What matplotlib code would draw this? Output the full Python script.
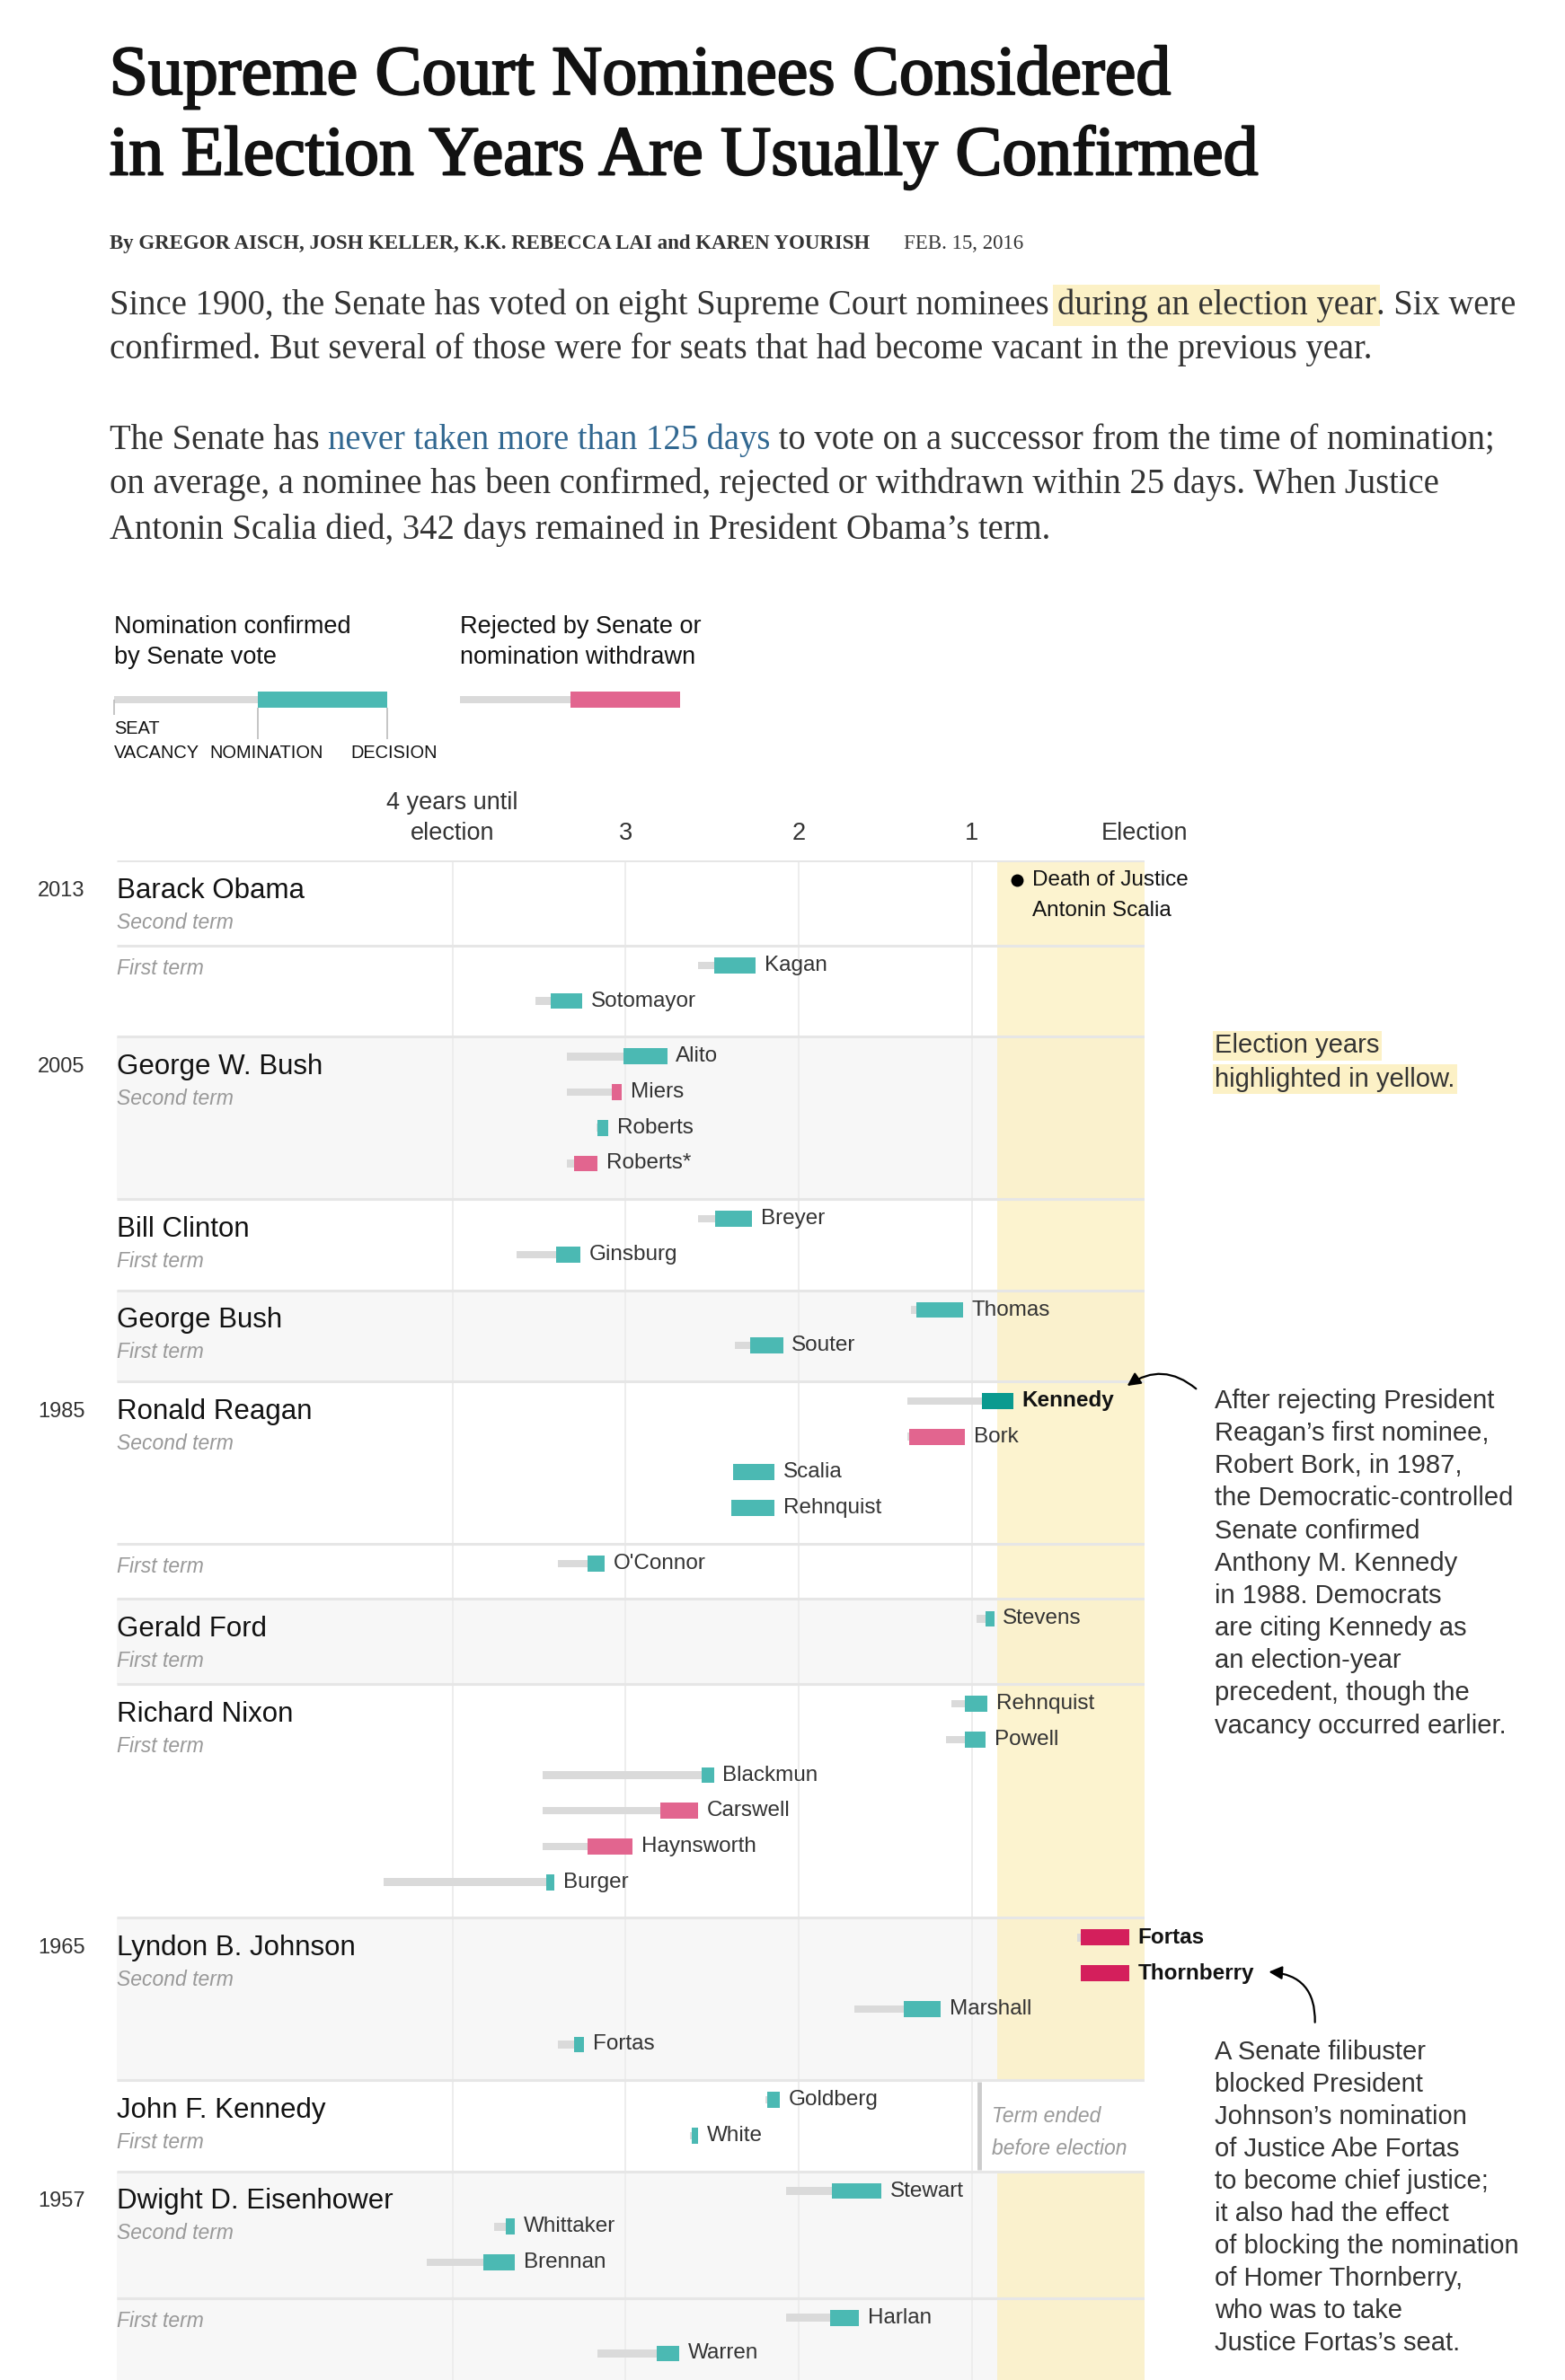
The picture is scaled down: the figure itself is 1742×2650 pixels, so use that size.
import matplotlib
matplotlib.use("Agg")
import numpy as np
import matplotlib.pyplot as plt
import matplotlib.patheffects as pe
from matplotlib.patches import FancyArrowPatch

plt.rcParams['font.family'] = ['Liberation Sans', 'DejaVu Sans']

# ---- groups (president / term), newest first
group_names = ["Barack Obama", "", "George W. Bush", "Bill Clinton", "George Bush",
               "Ronald Reagan", "", "Gerald Ford", "Richard Nixon",
               "Lyndon B. Johnson", "John F. Kennedy", "Dwight D. Eisenhower", ""]
group_terms = ["Second term", "First term", "Second term", "First term", "First term",
               "Second term", "First term", "First term", "First term",
               "Second term", "First term", "Second term", "First term"]
group_years = ["2013", "", "2005", "", "", "1985", "", "", "", "1965", "", "1957", ""]
term_ended_early = [False] * 10 + [True] + [False] * 2

# ---- nominees: years until the next election at vacancy, nomination and decision
nominees = ["Kagan", "Sotomayor", "Alito", "Miers", "Roberts", "Roberts*",
            "Breyer", "Ginsburg", "Thomas", "Souter",
            "Kennedy", "Bork", "Scalia", "Rehnquist", "O'Connor", "Stevens",
            "Rehnquist", "Powell", "Blackmun", "Carswell", "Haynsworth", "Burger",
            "Fortas", "Thornberry", "Marshall", "Fortas", "Goldberg", "White",
            "Stewart", "Whittaker", "Brennan", "Harlan", "Warren"]
nominee_group = [1, 1, 2, 2, 2, 2, 3, 3, 4, 4, 5, 5, 5, 5, 6, 7,
                 8, 8, 8, 8, 8, 8, 9, 9, 9, 9, 10, 10, 11, 11, 11, 12, 12]
vacancy = [2.58, 3.52, 3.34, 3.34, 3.17, 3.34, 2.58, 3.63, 1.35, 2.37,
           1.37, 1.37, 2.38, 2.39, 3.39, 0.97, 1.12, 1.15, 3.48, 3.48, 3.48, 4.40,
           0.39, 0.37, 1.68, 3.39, 2.19, 2.63, 2.07, 3.76, 4.15, 2.07, 3.16]
nomination = [2.49, 3.43, 3.01, 3.08, 3.16, 3.30, 2.48, 3.40, 1.32, 2.28,
              0.94, 1.36, 2.38, 2.39, 3.22, 0.92, 1.04, 1.04, 2.56, 2.80, 3.22, 3.46,
              0.37, 0.37, 1.39, 3.30, 2.18, 2.62, 1.81, 3.69, 3.82, 1.82, 2.82]
decision = [2.25, 3.25, 2.76, 3.02, 3.10, 3.16, 2.27, 3.26, 1.05, 2.09,
            0.76, 1.04, 2.14, 2.14, 3.12, 0.87, 0.91, 0.92, 2.49, 2.58, 2.96, 3.41,
            0.09, 0.09, 1.18, 3.24, 2.11, 2.58, 1.52, 3.64, 3.64, 1.65, 2.69]
rejected = [False, False, False, True, False, True, False, False, False, False,
            False, True, False, False, False, False, False, False, False, True, True, False,
            True, True, False, False, False, False, False, False, False, False, False]
in_election_year = [False] * 10 + [True] + [False] * 11 + [True, True] + [False] * 9

axis_ticks = [4, 3, 2, 1, 0]
axis_labels = ["election", "3", "2", "1", "Election"]
election_year_start = 0.851   # Jan 1 of the election year
scalia_death = 0.737
jfk_term_end = 0.956

TEAL, TEAL_DARK = '#4bb9b3', '#0a9a8f'
PINK, CRIMSON = '#e2658f', '#d41f5c'
GRAYBAR, ROWGRAY = '#dadada', '#f7f7f7'
SEP, GRID = '#e6e6e6', '#ececec'
YELLOW = '#fcf0bf'
HILITE = '#fcf1c6'
TXT = '#333333'

fig = plt.figure(figsize=(17.42, 26.5), dpi=100)
renderer = fig.canvas.get_renderer()

# layout axes in reference units, y downwards
H = 1568
W = 1742 * H / 2650
lay = fig.add_axes([0, 0, 1, 1])
lay.set_xlim(0, W)
lay.set_ylim(H, 0)
lay.axis('off')
lay.set_zorder(3)

# chart axes: x in years until election, y in the same vertical units
X0, X1, Y0 = 77, 754, 567
ax = fig.add_axes([X0 / W, 0, (X1 - X0) / W, (H - Y0) / H])
XL = (X1 - X0) / 114.0
ax.set_xlim(XL, 0)
ax.set_ylim(H, Y0)
ax.axis('off')


def text_width(a, s, **kw):
    t = a.text(0, 0, s + 'x', **kw)
    w1 = t.get_window_extent(renderer).width
    t.set_text('x')
    w2 = t.get_window_extent(renderer).width
    t.remove()
    return (w1 - w2) * W / fig.bbox.width


def draw_runs(a, x, y, parts, **kw):
    # parts: list of (text, extra style) sharing one font
    prefix = ''
    for s, extra in parts:
        dx = text_width(a, prefix, **kw) if prefix else 0
        a.text(x + dx, y, s, **{**kw, **extra})
        prefix += s


# ---- header
serif = 'Liberation Serif'
heavy = [pe.withStroke(linewidth=1.6, foreground='#121212')]
lay.text(72, 62, "Supreme Court Nominees Considered", family=serif, size=56,
         color='#121212', va='baseline', path_effects=heavy)
lay.text(72, 115, "in Election Years Are Usually Confirmed", family=serif, size=56,
         color='#121212', va='baseline', path_effects=heavy)
lay.text(72, 164, "By GREGOR AISCH, JOSH KELLER, K.K. REBECCA LAI and KAREN YOURISH",
         family=serif, size=16.5, weight='bold', color=TXT, va='baseline')
lay.text(595, 164, "FEB. 15, 2016", family=serif, size=16.5, color=TXT, va='baseline')

pk = dict(family=serif, size=27.8, color=TXT, va='baseline')
hl = dict(bbox=dict(boxstyle='square,pad=0.12', fc=HILITE, ec='none'))
link = dict(color='#326891')
draw_runs(lay, 72, 207, [("Since 1900, the Senate has voted on eight Supreme Court nominees ", {}),
                         ("during an election year", hl), (". Six were", {})], **pk)
lay.text(72, 236, "confirmed. But several of those were for seats that had become vacant in the previous year.", **pk)
draw_runs(lay, 72, 296, [("The Senate has ", {}), ("never taken more than 125 days", link),
                         (" to vote on a successor from the time of nomination;", {})], **pk)
lay.text(72, 325, "on average, a nominee has been confirmed, rejected or withdrawn within 25 days. When Justice", **pk)
lay.text(72, 355, "Antonin Scalia died, 342 days remained in President Obama\u2019s term.", **pk)

# ---- legend
lk = dict(size=19.5, color='#121212', va='center')
lay.text(75, 413, "Nomination confirmed", **lk)
lay.text(75, 433, "by Senate vote", **lk)
lay.text(303, 413, "Rejected by Senate or", **lk)
lay.text(303, 433, "nomination withdrawn", **lk)
lay.barh(461, 95, left=75, height=4.5, color=GRAYBAR)
lay.barh(461, 85, left=170, height=10.5, color=TEAL)
lay.barh(461, 73, left=303, height=4.5, color=GRAYBAR)
lay.barh(461, 72, left=376, height=10.5, color=PINK)
lay.vlines([75], 461, 471, color='#bbbbbb', lw=1.2)
lay.vlines([170, 255], 466, 487, color='#bbbbbb', lw=1.2)
sk = dict(size=14.4, color='#121212', va='center')
lay.text(75, 480, "SEAT", **sk)
lay.text(75, 496, "VACANCY", **sk)
lay.text(138, 496, "NOMINATION", **sk)
lay.text(231, 496, "DECISION", **sk)

# ---- axis header
hk = dict(size=19.5, color=TXT, ha='center', va='center')
ax.text(axis_ticks[0], 529, "4 years until", **hk)
for t, lab in zip(axis_ticks, axis_labels):
    ax.text(t, 549, lab, **hk)

# ---- row layout
ng = len(group_names)
counts = [nominee_group.count(g) for g in range(ng)]
heights = [max(56, 13 + 23.5 * n) if group_names[g] else 13 + 23.5 * n
           for g, n in enumerate(counts)]
tops = Y0 + np.concatenate([[0], np.cumsum(heights)[:-1]])

shade = False
for g in range(ng):
    if group_names[g]:
        shade = not shade if g > 0 else False
    top, h = tops[g], heights[g]
    if shade:
        ax.barh(top + h / 2, XL, left=0, height=h, color=ROWGRAY, zorder=0)
    if not term_ended_early[g]:
        ax.barh(top + h / 2, election_year_start, left=0, height=h, color=YELLOW,
                alpha=0.75, zorder=1)
    if group_names[g]:
        ax.text(XL, top + 20, group_names[g], size=22.5, color='#121212', va='center')
        ax.text(XL, top + 41, group_terms[g], size=16.5, color='#999999',
                style='italic', va='center')
    else:
        ax.text(XL, top + 15, group_terms[g], size=16.5, color='#999999',
                style='italic', va='center')
    if group_years[g]:
        lay.text(25, top + 20, group_years[g], size=17, color=TXT, va='center')

ax.vlines(axis_ticks[:4], Y0, H, color=GRID, lw=1.3, zorder=2)
ax.hlines(list(tops) + [tops[-1] + heights[-1]], XL, 0, color=SEP, lw=2.2, zorder=3)

# ---- nominee bars
k_in_group = {}
for i, name in enumerate(nominees):
    g = nominee_group[i]
    k = k_in_group.get(g, 0)
    k_in_group[g] = k + 1
    y = tops[g] + 13 + 23.5 * k
    if in_election_year[i]:
        col = CRIMSON if rejected[i] else TEAL_DARK
    else:
        col = PINK if rejected[i] else TEAL
    ax.barh(y, nomination[i] - vacancy[i], left=vacancy[i], height=5, color=GRAYBAR, zorder=4)
    ax.barh(y, decision[i] - nomination[i], left=nomination[i], height=10.5, color=col, zorder=5)
    ax.annotate(name, xy=(decision[i], y), xytext=(7, 0), textcoords='offset points',
                va='center', size=17.5,
                color='#121212' if in_election_year[i] else TXT,
                weight='bold' if in_election_year[i] else 'normal', zorder=6)

# ---- annotations inside the chart
ax.plot(scalia_death, tops[0] + 13, 'o', color='black', ms=9, zorder=6)
ax.text(0.649, tops[0] + 13, "Death of Justice", size=17.5, color='#121212', va='center', zorder=6)
ax.text(0.649, tops[0] + 33, "Antonin Scalia", size=17.5, color='#121212', va='center', zorder=6)

g_jfk = term_ended_early.index(True)
ax.vlines(jfk_term_end, tops[g_jfk] + 1, tops[g_jfk] + heights[g_jfk] - 1,
          color='#cccccc', lw=3.5, zorder=4)
ax.text(0.886, tops[g_jfk] + 24, "Term ended", size=16.5, style='italic', color='#999999', va='center')
ax.text(0.886, tops[g_jfk] + 45, "before election", size=16.5, style='italic', color='#999999', va='center')

# ---- right-hand notes
rk = dict(size=21, color=TXT, va='center')
lay.text(800, 689, "Election years",
         bbox=dict(boxstyle='square,pad=0.08', fc=HILITE, ec='none'), **rk)
lay.text(800, 711, "highlighted in yellow.",
         bbox=dict(boxstyle='square,pad=0.08', fc=HILITE, ec='none'), **rk)

note_kennedy = ["After rejecting President", "Reagan\u2019s first nominee,",
                "Robert Bork, in 1987,", "the Democratic-controlled", "Senate confirmed",
                "Anthony M. Kennedy", "in 1988. Democrats", "are citing Kennedy as",
                "an election-year", "precedent, though the", "vacancy occurred earlier."]
note_fortas = ["A Senate filibuster", "blocked President", "Johnson\u2019s nomination",
               "of Justice Abe Fortas", "to become chief justice;", "it also had the effect",
               "of blocking the nomination", "of Homer Thornberry,", "who was to take",
               "Justice Fortas\u2019s seat."]
for j, line in enumerate(note_kennedy):
    lay.text(800, 923 + 21.4 * j, line, **rk)
for j, line in enumerate(note_fortas):
    lay.text(800, 1352 + 21.3 * j, line, **rk)

lay.add_patch(FancyArrowPatch((789, 916), (741, 914), connectionstyle='arc3,rad=0.4',
                              arrowstyle='-|>', mutation_scale=22, lw=1.6, color='black'))
lay.add_patch(FancyArrowPatch((866, 1334), (834, 1299), connectionstyle='arc3,rad=0.5',
                              arrowstyle='-|>', mutation_scale=22, lw=1.6, color='black'))

fig.savefig('out.png', dpi=100)
